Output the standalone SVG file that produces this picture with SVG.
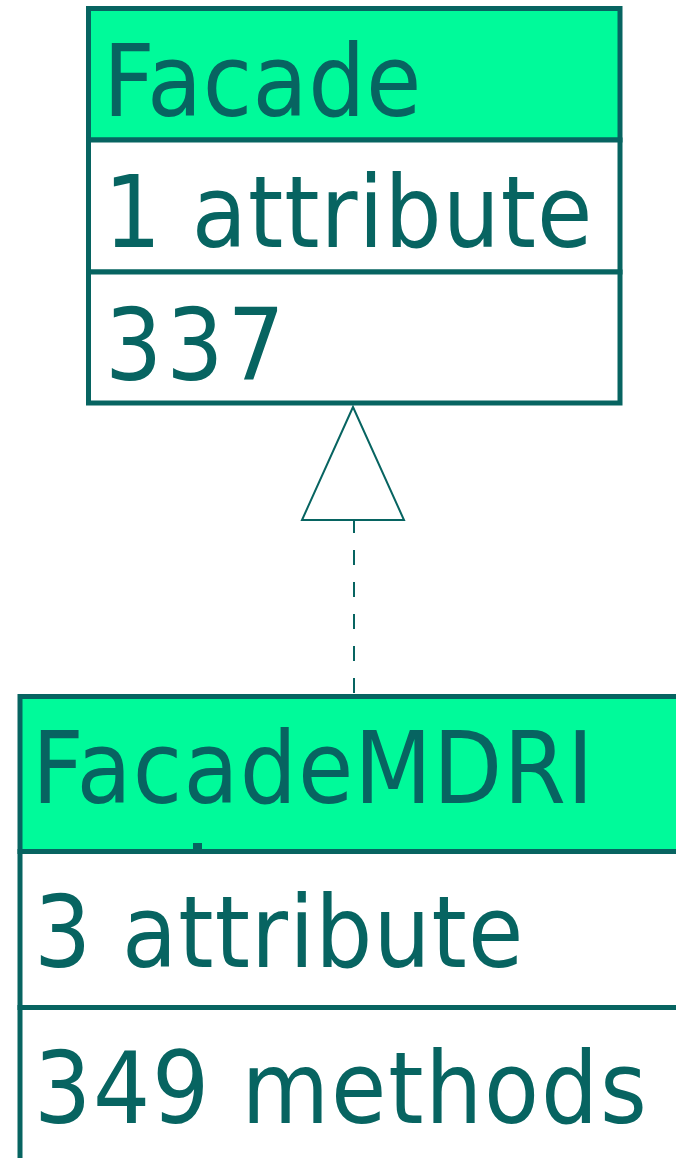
<svg xmlns="http://www.w3.org/2000/svg" width="676" height="1158" viewBox="0 0 676 1158">
  <style>
    .box { fill: #ffffff; stroke: #076461; stroke-width: 5; }
    .head { fill: #00fa9a; stroke: #076461; stroke-width: 5; }
    .t { font-family: "DejaVu Sans", sans-serif; font-size: 90px; fill: #076461; }
    .edge { fill: none; stroke: #076461; stroke-width: 2; }
  </style>
  <rect width="676" height="1158" fill="#ffffff"/>
  <g id="Facade">
    <rect class="head" x="88.5" y="8.5" width="531.5" height="131.5"/>
    <rect class="box" x="88.5" y="140" width="531.5" height="132"/>
    <rect class="box" x="88.5" y="272" width="531.5" height="131"/>
    <text class="t" letter-spacing="0.5" transform="translate(103,116) scale(1,1.1)">Facade</text>
    <text class="t" letter-spacing="1" transform="translate(104,247) scale(1,1.1)">1 attribute</text>
    <text class="t" letter-spacing="4" transform="translate(105,380) scale(1,1.1)">337</text>
  </g>
  <g id="FacadeMDRI">
    <rect class="head" x="20" y="696.5" width="700" height="155"/>
    <rect class="box" x="20" y="851.5" width="700" height="156"/>
    <rect class="box" x="20" y="1007.5" width="700" height="200"/>
    <text class="t" letter-spacing="1.1" transform="translate(32,803) scale(1,1.1)">FacadeMDRI</text>
    <rect x="193" y="843" width="9" height="7" fill="#076461"/>
    <text class="t" letter-spacing="1.1" transform="translate(34,967) scale(1,1.1)">3 attribute</text>
    <text class="t" letter-spacing="1.8" transform="translate(34,1123) scale(1,1.1)">349 methods</text>
  </g>
  <g id="connectors">
    <path class="edge" d="M354,518 L354,697" stroke-dasharray="15 17"/>
    <polygon class="edge" points="353,407 302,520 404,520" style="fill:#ffffff"/>
  </g>
</svg>
